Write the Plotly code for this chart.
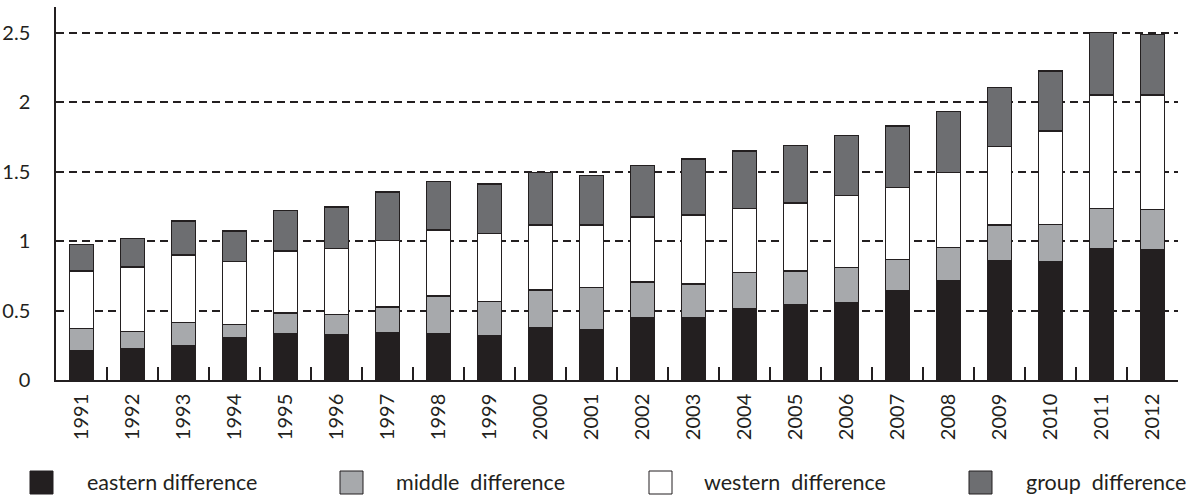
import plotly.graph_objects as go

years = [str(y) for y in range(1991, 2013)]
eastern = [0.211, 0.226, 0.247, 0.305, 0.336, 0.327, 0.343, 0.334, 0.322, 0.375, 0.360,
           0.447, 0.447, 0.516, 0.545, 0.557, 0.641, 0.716, 0.860, 0.852, 0.949, 0.937]
middle = [0.161, 0.122, 0.166, 0.096, 0.147, 0.146, 0.183, 0.271, 0.242, 0.273, 0.308,
          0.259, 0.245, 0.257, 0.240, 0.255, 0.226, 0.237, 0.257, 0.269, 0.285, 0.293]
western = [0.415, 0.466, 0.487, 0.451, 0.446, 0.473, 0.478, 0.476, 0.490, 0.469, 0.449,
           0.468, 0.497, 0.464, 0.490, 0.516, 0.521, 0.541, 0.566, 0.673, 0.819, 0.823]
group = [0.190, 0.207, 0.246, 0.221, 0.293, 0.300, 0.350, 0.348, 0.358, 0.377, 0.358,
         0.373, 0.403, 0.413, 0.413, 0.432, 0.442, 0.439, 0.425, 0.432, 0.449, 0.437]
series_names = ["eastern difference", "middle difference", "western difference", "group difference"]
legend_labels = ["eastern difference", "middle&nbsp; difference", "western&nbsp; difference",
                 "group&nbsp; difference"]
y_ticks = [0, 0.5, 1, 1.5, 2, 2.5]
y_tick_labels = ["0", "0.5", "1", "1.5", "2", "2.5"]

colors = ["#231f20", "#a7a9ac", "#ffffff", "#6d6e71"]
edge = "#231f20"
font_family = "Lato, 'Open Sans', sans-serif"

W, H = 1200, 497
ML, MR, MT, MB = 56, 22, 7, 117
PW, PH = W - ML - MR, H - MT - MB


def px_x(px):
    return (px - ML) / PW


def px_y(py):
    return (H - MB - py) / PH


fig = go.Figure()
for name, vals, col in zip(series_names, [eastern, middle, western, group], colors):
    fig.add_trace(go.Bar(
        x=years, y=vals, name=name, showlegend=False,
        marker=dict(color=col, line=dict(color=edge, width=1.5)),
    ))

# custom legend (large square swatches like the reference)
legend_sq_x = [30, 340, 649, 969]
legend_txt_x = [85, 394, 702, 1024]
shapes = []
annotations = []
for label, col, sx, tx in zip(legend_labels, colors, legend_sq_x, legend_txt_x):
    shapes.append(dict(type="rect", xref="paper", yref="paper",
                       x0=px_x(sx), x1=px_x(sx + 23), y0=px_y(471), y1=px_y(494),
                       fillcolor=col, line=dict(color=edge, width=1)))
    annotations.append(dict(text=label, xref="paper", yref="paper", x=px_x(tx), y=px_y(482),
                            xanchor="left", yanchor="middle", showarrow=False,
                            font=dict(family=font_family, size=21.5, color="#231f20")))

fig.update_layout(
    barmode="stack",
    bargap=0.53,
    width=W, height=H,
    margin=dict(l=ML, r=MR, t=MT, b=MB, autoexpand=False),
    plot_bgcolor="white", paper_bgcolor="white",
    font=dict(family=font_family, size=20, color="#231f20"),
    shapes=shapes,
    annotations=annotations,
)
fig.update_xaxes(
    type="category", tickangle=-90, tickson="boundaries",
    ticks="inside", ticklen=13, tickwidth=1.5, tickcolor=edge,
    showline=True, linecolor=edge, linewidth=1.5,
    showgrid=False, ticklabelstandoff=4, automargin=False,
    tickfont=dict(size=20),
)
fig.update_yaxes(
    range=[0, (H - MB - MT) / 138.8],
    tickvals=y_ticks, ticktext=y_tick_labels,
    showline=True, linecolor=edge, linewidth=1.5,
    showgrid=True, gridcolor=edge, gridwidth=1.5, griddash="8px,5px",
    zeroline=False, ticks="", ticklabelstandoff=20, automargin=False,
    tickfont=dict(size=20),
)

fig.write_html("out.html", config={"displayModeBar": False},
               post_script="document.body.style.margin='0';document.body.style.overflow='hidden';")
